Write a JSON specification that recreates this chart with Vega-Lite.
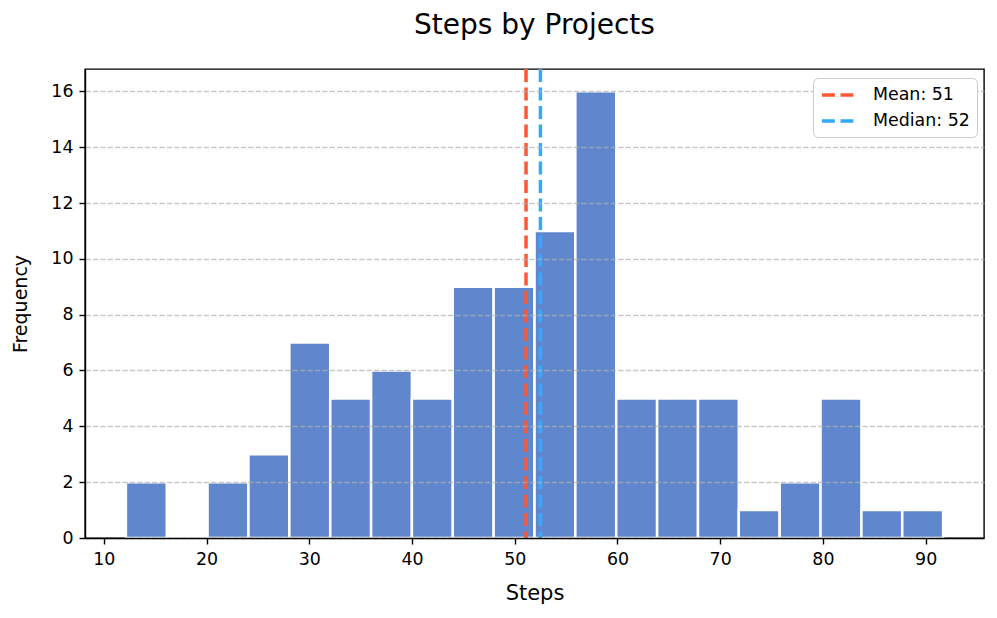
{
  "$schema": "https://vega.github.io/schema/vega-lite/v6.json",
  "width": 899,
  "height": 469,
  "autosize": "none",
  "padding": {"left": 85, "top": 69, "right": 13, "bottom": 80},
  "background": "white",
  "title": {"text": "Steps by Projects", "fontSize": 28, "font": "DejaVu Sans", "fontWeight": "normal", "color": "black", "offset": 27, "anchor": "middle", "frame": "group"},
  "config": {
    "view": {"stroke": "black", "strokeWidth": 1.4},
    "font": "DejaVu Sans",
    "axis": {"labelFont": "DejaVu Sans", "labelFontSize": 17.4, "labelColor": "black", "titleFont": "DejaVu Sans", "titleFontWeight": "normal", "titleColor": "black", "domainColor": "black", "domainWidth": 1.4, "tickColor": "black", "tickWidth": 1.4, "tickSize": 6, "labelPadding": 6}
  },
  "datasets": {
    "bins": [
      {"start": 12.15, "end": 16.13, "count": 2},
      {"start": 16.13, "end": 20.10, "count": 0},
      {"start": 20.10, "end": 24.08, "count": 2},
      {"start": 24.08, "end": 28.06, "count": 3},
      {"start": 28.06, "end": 32.04, "count": 7},
      {"start": 32.04, "end": 36.02, "count": 5},
      {"start": 36.02, "end": 39.99, "count": 6},
      {"start": 39.99, "end": 43.97, "count": 5},
      {"start": 43.97, "end": 47.95, "count": 9},
      {"start": 47.95, "end": 51.93, "count": 9},
      {"start": 51.93, "end": 55.90, "count": 11},
      {"start": 55.90, "end": 59.88, "count": 16},
      {"start": 59.88, "end": 63.86, "count": 5},
      {"start": 63.86, "end": 67.84, "count": 5},
      {"start": 67.84, "end": 71.81, "count": 5},
      {"start": 71.81, "end": 75.79, "count": 1},
      {"start": 75.79, "end": 79.77, "count": 2},
      {"start": 79.77, "end": 83.75, "count": 5},
      {"start": 83.75, "end": 87.72, "count": 1},
      {"start": 87.72, "end": 91.70, "count": 1}
    ],
    "stats": [
      {"value": 51.1, "label": "Mean: 51"},
      {"value": 52.5, "label": "Median: 52"}
    ]
  },
  "layer": [
    {
      "data": {"name": "bins"},
      "mark": {"type": "bar", "color": "#4472c4", "fillOpacity": 0.85, "stroke": "white", "strokeWidth": 2.5},
      "encoding": {
        "x": {"field": "start", "type": "quantitative", "scale": {"domain": [8.17, 95.68], "nice": false, "zero": false},
              "axis": {"title": "Steps", "titleFontSize": 21, "values": [10, 20, 30, 40, 50, 60, 70, 80, 90], "grid": false, "titlePadding": 15, "zindex": 1}},
        "x2": {"field": "end"},
        "y": {"field": "count", "type": "quantitative", "scale": {"domain": [0, 16.8], "nice": false, "padding": 0},
              "axis": {"title": "Frequency", "titleFontSize": 19, "values": [0, 2, 4, 6, 8, 10, 12, 14, 16], "grid": true, "gridDash": [5.2, 2.2], "gridColor": "#b0b0b0", "gridOpacity": 0.7, "gridWidth": 1.4, "titlePadding": 20, "zindex": 1}},
        "y2": {"datum": 0}
      }
    },
    {
      "data": {"name": "stats"},
      "mark": {"type": "rule", "strokeWidth": 3.5, "strokeDash": [12.9, 5.6]},
      "encoding": {
        "x": {"field": "value", "type": "quantitative"},
        "color": {"field": "label", "type": "nominal",
                  "scale": {"domain": ["Mean: 51", "Median: 52"], "range": ["#ff5733", "#33aaff"]},
                  "legend": {"title": null, "orient": "none", "legendX": 728, "legendY": 9, "symbolType": "M-1,0H3", "symbolSize": 256, "symbolStrokeWidth": 3.5, "symbolDash": [12.9, 5.6], "symbolFillColor": "transparent", "labelFontSize": 17.4, "labelFont": "DejaVu Sans", "labelColor": "black", "fillColor": "white", "strokeColor": "#cccccc", "cornerRadius": 5, "padding": 7, "rowPadding": 7, "labelOffset": 33, "zindex": 2}}
      }
    }
  ]
}
